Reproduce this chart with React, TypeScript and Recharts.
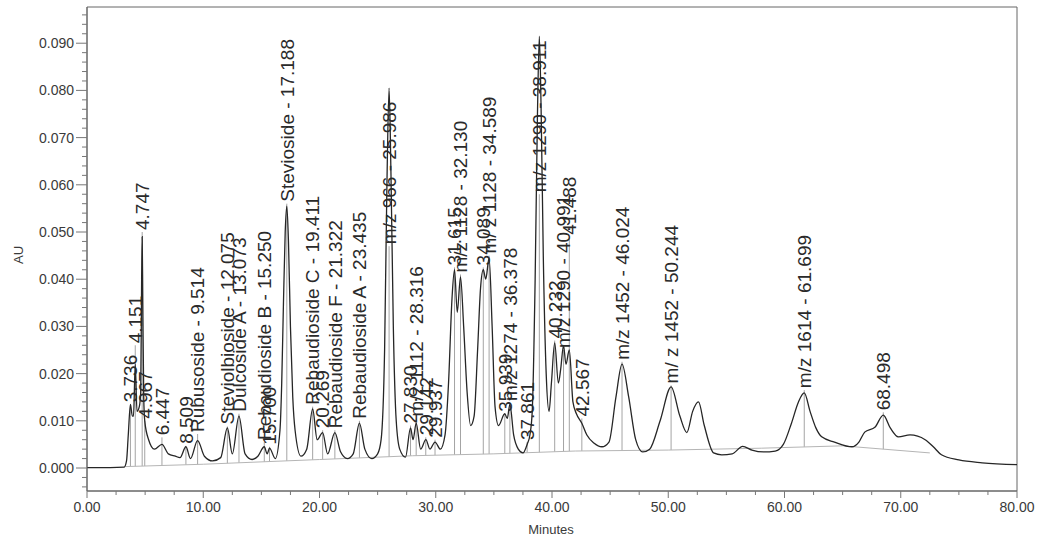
import React from 'react';
import { ComposedChart, Line, Scatter, XAxis, YAxis, ReferenceLine, ReferenceArea } from 'recharts';

// Chromatogram trace (minutes, AU)
const traceTime = [
  0, 2, 3.2, 3.4, 3.55, 3.736, 3.9, 4.0, 4.151, 4.3, 4.5, 4.62, 4.7, 4.747, 4.8, 4.88, 4.967, 5.3, 5.8, 6.447, 7.0, 7.6, 8.0,
  8.509, 8.9, 9.514, 10.1, 10.8, 11.5, 12.075, 12.5, 13.073, 13.6, 14.2, 14.7, 15.25, 15.5, 15.7, 16.2, 16.6, 16.75,
  16.9, 17.05, 17.188, 17.33, 17.5, 17.7, 17.9, 18.4, 18.9, 19.411, 19.8, 20.269, 20.7, 21.322, 21.8, 22.4, 22.9, 23.435,
  23.9, 24.5, 25.0, 25.3, 25.6, 25.8, 25.986, 26.15, 26.35, 26.6, 26.9, 27.4, 27.83, 28.05, 28.316, 28.7, 29.15, 29.5,
  29.937, 30.4, 30.8, 31.1, 31.4, 31.615, 31.85, 32.13, 32.4, 32.7, 33.0, 33.3, 33.6, 33.85, 34.089, 34.3, 34.589, 34.85,
  35.1, 35.4, 35.939, 36.15, 36.378, 36.7, 37.1, 37.5, 37.861, 38.1, 38.3, 38.55, 38.75, 38.911, 39.07, 39.25, 39.5,
  39.75, 39.95, 40.232, 40.55, 40.75, 40.991, 41.2, 41.488, 41.8, 42.1, 42.567, 43.0, 43.6, 44.3, 44.9, 45.5, 46.024,
  46.6, 47.2, 47.8, 48.4, 49.3, 50.244, 51.0, 51.6, 52.1, 52.6, 53.1, 53.9, 54.6, 55.5, 56.4, 57.2, 58.2, 59.2, 59.9,
  60.6, 61.2, 61.699, 62.2, 62.7, 63.2, 64.3, 65.8, 66.4, 66.9, 67.8, 68.498, 69.1, 69.8, 70.8, 72.1, 72.8, 73.5, 75,
  77, 80,
];
const traceAU = [
  0.0001, 0.0001, 0.0002, 0.0015, 0.007, 0.0135, 0.011, 0.011, 0.022, 0.012, 0.013, 0.016, 0.04, 0.049, 0.035, 0.015,
  0.010, 0.006, 0.004, 0.005, 0.003, 0.0025, 0.0022, 0.0045, 0.002, 0.0058, 0.0025, 0.0015, 0.0022, 0.0085, 0.003,
  0.011, 0.003, 0.0018, 0.0025, 0.0045, 0.003, 0.0042, 0.002, 0.008, 0.018, 0.035, 0.05, 0.0555, 0.048, 0.03, 0.015,
  0.008, 0.0025, 0.004, 0.0125, 0.006, 0.0075, 0.003, 0.0075, 0.0035, 0.002, 0.003, 0.0095, 0.004, 0.002, 0.003, 0.006,
  0.025, 0.06, 0.0805, 0.062, 0.03, 0.01, 0.004, 0.0023, 0.0085, 0.006, 0.0095, 0.004, 0.006, 0.004, 0.0055, 0.004,
  0.007, 0.018, 0.036, 0.042, 0.033, 0.0405, 0.03, 0.016, 0.009, 0.011, 0.025, 0.038, 0.042, 0.040, 0.0445, 0.03, 0.013,
  0.009, 0.0115, 0.0105, 0.0135, 0.007, 0.004, 0.0032, 0.005, 0.007, 0.012, 0.04, 0.075, 0.0915, 0.075, 0.045, 0.02,
  0.012, 0.018, 0.0265, 0.018, 0.021, 0.026, 0.022, 0.025, 0.014, 0.0115, 0.0095, 0.007, 0.0053, 0.0045, 0.0055, 0.015,
  0.022, 0.015, 0.006, 0.0034, 0.004, 0.01, 0.0172, 0.011, 0.0075, 0.012, 0.014, 0.009, 0.0032, 0.0028, 0.003, 0.0046,
  0.0038, 0.0034, 0.0036, 0.005, 0.0095, 0.014, 0.0159, 0.012, 0.0085, 0.0066, 0.0055, 0.0045, 0.0055, 0.0076, 0.0087,
  0.0112, 0.0085, 0.0066, 0.007, 0.006, 0.0045, 0.0028, 0.0017, 0.0011, 0.0007,
];

// Integration baseline (grey)
const baselineTime = [3.3, 10, 20, 28, 35, 42, 50, 58, 65, 72.5];
const baselineAU = [0.0003, 0.0008, 0.0018, 0.0026, 0.003, 0.0036, 0.0038, 0.0042, 0.0047, 0.0032];

// Peak annotations
const peakTime = [
  3.736, 4.151, 4.747, 4.967, 6.447, 8.509, 9.514, 12.075, 13.073, 15.25, 15.7, 17.188, 19.411, 20.269, 21.322, 23.435,
  25.986, 27.83, 28.316, 29.142, 29.937, 31.615, 32.13, 34.089, 34.589, 35.939, 36.378, 37.861, 38.911, 40.232, 40.991,
  41.488, 42.567, 46.024, 50.244, 61.699, 68.498,
];
const peakLabelAU = [
  0.0135, 0.026, 0.050, 0.010, 0.0065, 0.0047, 0.0072, 0.0088, 0.0115, 0.0055, 0.0045, 0.056, 0.013, 0.008, 0.008, 0.010,
  0.047, 0.009, 0.0105, 0.0065, 0.006, 0.0425, 0.041, 0.0425, 0.045, 0.0115, 0.0138, 0.0055, 0.058, 0.027, 0.025,
  0.049, 0.0105, 0.0225, 0.0175, 0.0165, 0.0118,
];
const peakText = [
  '3.736', '4.151', '4.747', '4.967', '6.447', '8.509', 'Rubusoside - 9.514', 'Steviolbioside - 12.075',
  'Dulcoside A - 13.073', 'Rebaudioside B - 15.250', '15.700', 'Stevioside - 17.188', 'Rebaudioside C - 19.411',
  '20.269', 'Rebaudioside F - 21.322', 'Rebaudioside A - 23.435', 'm/z 966 - 25.986', '27.830', 'm/z 1112 - 28.316',
  '29.142', '29.937', '31.615', 'm/z 1128 - 32.130', '34.089', 'm/ z 1128 - 34.589', '35.939', 'm/z 1274 - 36.378',
  '37.861', 'm/z 1290 - 38.911', '40.232', 'm/z 1290 - 40.991', '41.488', '42.567', 'm/z 1452 - 46.024',
  'm/ z 1452 - 50.244', 'm/z 1614 - 61.699', '68.498',
];

const xMajorTicks = [0, 10, 20, 30, 40, 50, 60, 70, 80];
const xTickLabels = ['0.00', '10.00', '20.00', '30.00', '40.00', '50.00', '60.00', '70.00', '80.00'];
const yMajorTicks = [0, 0.01, 0.02, 0.03, 0.04, 0.05, 0.06, 0.07, 0.08, 0.09];
const yTickLabels = ['0.000', '0.010', '0.020', '0.030', '0.040', '0.050', '0.060', '0.070', '0.080', '0.090'];

const traceData = traceTime.map((t, i) => ({ t, v: traceAU[i] }));
const baselineData = baselineTime.map((t, i) => ({ t, v: baselineAU[i] }));

const baseAt = (t: number) => {
  if (t <= baselineTime[0]) return baselineAU[0];
  for (let i = 1; i < baselineTime.length; i++) {
    if (t <= baselineTime[i]) {
      const f = (t - baselineTime[i - 1]) / (baselineTime[i] - baselineTime[i - 1]);
      return baselineAU[i - 1] + f * (baselineAU[i] - baselineAU[i - 1]);
    }
  }
  return baselineAU[baselineAU.length - 1];
};

const labelData = peakTime.map((t, i) => ({ t, v: peakLabelAU[i], label: peakText[i] }));

const xTicks: number[] = [];
for (let k = 0; k <= 32; k++) xTicks.push(k * 2.5);
const yTicks: number[] = [];
for (let k = -2; k <= 48; k++) yTicks.push(Math.round(k * 2) / 1000);

const FONT = '"Liberation Sans", Arial, sans-serif';
const TXT = '#3a3a3a';

const XTick = (props: any) => {
  const { x, y, payload } = props;
  const idx = xMajorTicks.findIndex((m) => Math.abs(m - payload.value) < 1e-6);
  const major = idx >= 0;
  return (
    <g>
      <line x1={x} x2={x} y1={y} y2={y + (major ? 7 : 4)} stroke="#777" strokeWidth={1} />
      {major && (
        <text x={x} y={y + 21} textAnchor="middle" fontFamily={FONT} fontSize={14} fill={TXT}>
          {xTickLabels[idx]}
        </text>
      )}
    </g>
  );
};

const YTick = (props: any) => {
  const { x, y, payload } = props;
  const idx = yMajorTicks.findIndex((m) => Math.abs(m - payload.value) < 1e-7);
  const major = idx >= 0;
  return (
    <g>
      <line x1={x - (major ? 11 : 5)} x2={x} y1={y} y2={y} stroke="#777" strokeWidth={1} />
      {major && (
        <text x={x - 13} y={y} dy="0.35em" textAnchor="end" fontFamily={FONT} fontSize={14} fill={TXT}>
          {yTickLabels[idx]}
        </text>
      )}
    </g>
  );
};

const PeakLabel = (props: any) => {
  const { cx, cy, payload } = props;
  if (cx == null || cy == null) return <g />;
  const y0 = cy - 2;
  return (
    <text
      x={cx}
      y={y0}
      dy="0.36em"
      transform={`rotate(-90 ${cx} ${y0})`}
      textAnchor="start"
      fontFamily={FONT}
      fontSize={19}
      fill="#2a2a2a"
    >
      {payload.label}
    </text>
  );
};

export default function App() {
  return (
    <div style={{ position: 'absolute', left: 0, top: 0, width: 1041, height: 543, background: '#fff' }}>
      <ComposedChart width={1041} height={543} margin={{ top: 7, right: 24, left: 0, bottom: 0 }}>
        <XAxis
          type="number"
          dataKey="t"
          domain={[0, 80]}
          ticks={xTicks}
          interval={0}
          tick={<XTick />}
          tickLine={false}
          tickSize={0}
          tickMargin={0}
          height={52}
          axisLine={{ stroke: '#666' }}
          allowDataOverflow
          label={{
            content: () => (
              <text x={551} y={534} textAnchor="middle" fontFamily={FONT} fontSize={13} fill={TXT}>
                Minutes
              </text>
            ),
          }}
        />
        <YAxis
          type="number"
          dataKey="v"
          domain={[-0.00487, 0.09767]}
          ticks={yTicks}
          interval={0}
          tick={<YTick />}
          tickLine={false}
          tickSize={0}
          tickMargin={0}
          width={87}
          axisLine={{ stroke: '#666' }}
          allowDataOverflow
          label={{
            content: () => (
              <text
                x={18}
                y={255}
                transform="rotate(-90 18 255)"
                textAnchor="middle"
                dy="0.35em"
                fontFamily={FONT}
                fontSize={13}
                fill={TXT}
              >
                AU
              </text>
            ),
          }}
        />
        <ReferenceArea x1={0} x2={80} y1={-0.00487} y2={0.09767} fill="none" stroke="#666" strokeWidth={1} />
        {peakTime.map((t, i) => (
          <ReferenceLine
            key={'m' + i}
            segment={[
              { x: t, y: baseAt(t) },
              { x: t, y: peakLabelAU[i] },
            ]}
            stroke="#9a9a9a"
            strokeWidth={0.9}
          />
        ))}
        <Line
          data={baselineData}
          dataKey="v"
          type="linear"
          stroke="#b5b5b5"
          strokeWidth={1}
          dot={false}
          isAnimationActive={false}
        />
        <Line
          data={traceData}
          dataKey="v"
          type="monotone"
          stroke="#262626"
          strokeWidth={1.3}
          dot={false}
          isAnimationActive={false}
        />
        <Scatter data={labelData} dataKey="v" shape={<PeakLabel />} isAnimationActive={false} />
      </ComposedChart>
    </div>
  );
}
